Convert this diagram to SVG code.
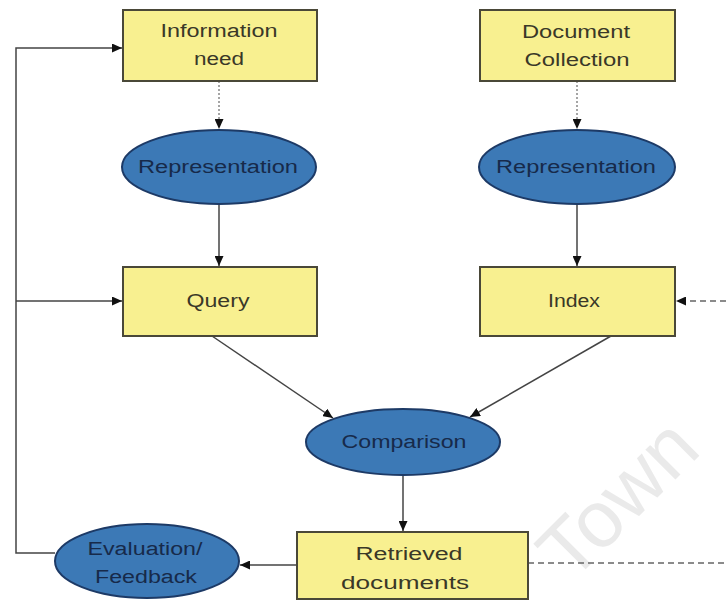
<svg xmlns="http://www.w3.org/2000/svg" width="726" height="600" viewBox="0 0 726 600">
<defs>
<style>
.box{fill:#f8f090;stroke:#4a4838;stroke-width:2}
.ell{fill:#3c79b6;stroke:#1d3a66;stroke-width:2}
.bt{font-family:"Liberation Sans",Arial,sans-serif;font-size:18px;fill:#3a3828;text-anchor:middle}
.et{font-family:"Liberation Sans",Arial,sans-serif;font-size:18px;fill:#172a4a;text-anchor:middle}
.ln{fill:none;stroke:#444;stroke-width:1.5}
.dot{fill:none;stroke:#888;stroke-width:1.5;stroke-dasharray:2 2}
.dash{fill:none;stroke:#666;stroke-width:1.5;stroke-dasharray:6 4}
.wm{font-family:"Liberation Sans",Arial,sans-serif;font-size:80px;fill:#eaeaea}
</style>
<marker id="ah" markerUnits="userSpaceOnUse" markerWidth="10" markerHeight="9" refX="10" refY="4.5" orient="auto">
<path d="M0,0 L10,4.5 L0,9 z" fill="#111"/>
</marker>
</defs>
<rect width="726" height="600" fill="#ffffff"/>
<text class="wm" transform="translate(571,584) rotate(-45)">Town</text>

<g id="connectors">
<path class="dot" d="M219,81 V129" marker-end="url(#ah)"/>
<path class="dot" d="M577,81 V129" marker-end="url(#ah)"/>
<path class="ln" d="M219,204 V266" marker-end="url(#ah)"/>
<path class="ln" d="M577,204 V266" marker-end="url(#ah)"/>
<path class="ln" d="M212,336 L333,418" marker-end="url(#ah)"/>
<path class="ln" d="M611,336 L470,417" marker-end="url(#ah)"/>
<path class="ln" d="M403,475 V531" marker-end="url(#ah)"/>
<path class="ln" d="M297,565 H240" marker-end="url(#ah)"/>
<path class="ln" d="M55,553 H16 V48 H122" marker-end="url(#ah)"/>
<path class="ln" d="M16,301 H122" marker-end="url(#ah)"/>
<path class="dash" d="M528,563 H726"/>
<path class="dash" d="M726,301 H676" marker-end="url(#ah)"/>
</g>

<g id="information-need">
<rect class="box" x="123" y="10" width="194" height="71"/>
<text class="bt" x="219" y="37" textLength="117" lengthAdjust="spacingAndGlyphs">Information</text>
<text class="bt" x="219" y="65" textLength="50" lengthAdjust="spacingAndGlyphs">need</text>
</g>
<g id="document-collection">
<rect class="box" x="480" y="10" width="195" height="71"/>
<text class="bt" x="576" y="38" textLength="108" lengthAdjust="spacingAndGlyphs">Document</text>
<text class="bt" x="577" y="66" textLength="105" lengthAdjust="spacingAndGlyphs">Collection</text>
</g>
<g id="representation-query">
<ellipse class="ell" cx="219" cy="167" rx="97" ry="37"/>
<text class="et" x="218" y="173" textLength="160" lengthAdjust="spacingAndGlyphs">Representation</text>
</g>
<g id="representation-doc">
<ellipse class="ell" cx="577" cy="167" rx="98" ry="37"/>
<text class="et" x="576" y="173" textLength="160" lengthAdjust="spacingAndGlyphs">Representation</text>
</g>
<g id="query">
<rect class="box" x="123" y="267" width="194" height="69"/>
<text class="bt" x="218" y="307" textLength="63" lengthAdjust="spacingAndGlyphs">Query</text>
</g>
<g id="index">
<rect class="box" x="480" y="267" width="195" height="69"/>
<text class="bt" x="574" y="307" textLength="52" lengthAdjust="spacingAndGlyphs">Index</text>
</g>
<g id="comparison">
<ellipse class="ell" cx="403" cy="442" rx="97" ry="33"/>
<text class="et" x="404" y="448" textLength="125" lengthAdjust="spacingAndGlyphs">Comparison</text>
</g>
<g id="retrieved-documents">
<rect class="box" x="297" y="532" width="231" height="67"/>
<text class="bt" x="409" y="560" textLength="107" lengthAdjust="spacingAndGlyphs">Retrieved</text>
<text class="bt" x="405" y="589" textLength="128" lengthAdjust="spacingAndGlyphs">documents</text>
</g>
<g id="evaluation-feedback">
<ellipse class="ell" cx="147" cy="561" rx="92" ry="37"/>
<text class="et" x="145" y="555" textLength="115" lengthAdjust="spacingAndGlyphs">Evaluation/</text>
<text class="et" x="146" y="583" textLength="102" lengthAdjust="spacingAndGlyphs">Feedback</text>
</g>
</svg>
